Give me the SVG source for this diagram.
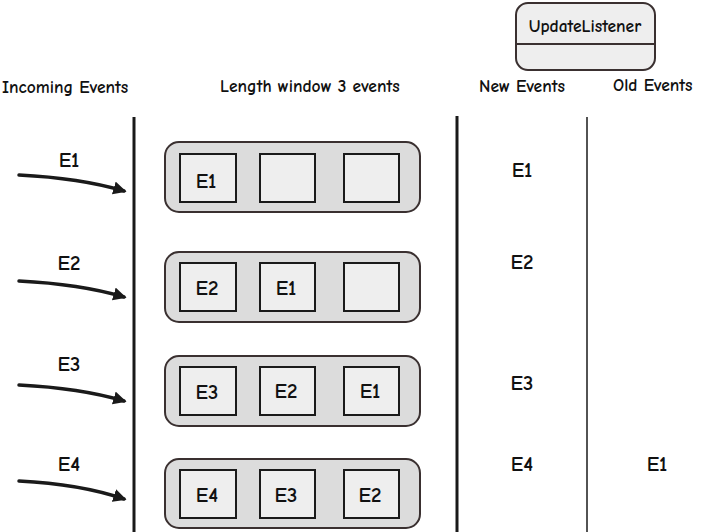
<svg xmlns="http://www.w3.org/2000/svg" width="701" height="532" viewBox="0 0 701 532">
<style>
text{font-family:"Comic Neue","Liberation Sans",sans-serif;fill:#111;font-weight:bold}
.h{font-size:17.5px}
.e{font-size:21px;text-anchor:middle}
.outer{fill:#dcdcdc;stroke:#3a3030;stroke-width:2}
.cell{fill:#eeeeee;stroke:#1a1a1a;stroke-width:2}
.arr{fill:none;stroke:#1a1a1a;stroke-width:3.5;stroke-linecap:round}
</style>
<defs>
<marker id="ah" viewBox="0 0 10 10" refX="8" refY="5" markerWidth="3.8" markerHeight="3.8" orient="auto">
<path d="M0,0 L10,5 L0,10 Z" fill="#1a1a1a"/>
</marker>
</defs>
<rect width="701" height="532" fill="#fff"/>
<g id="listener">
<rect x="516" y="3" width="139" height="67" rx="12" fill="#eeeeee" stroke="#3a3030" stroke-width="2"/>
<line x1="516" y1="44" x2="655" y2="44" stroke="#3a3030" stroke-width="2"/>
<text x="585" y="32" class="h" text-anchor="middle">UpdateListener</text>
</g>
<g id="headers">
<text x="2" y="93" class="h">Incoming Events</text>
<text x="220" y="92" class="h">Length window 3 events</text>
<text x="479" y="92" class="h">New Events</text>
<text x="613" y="91" class="h">Old Events</text>
</g>
<g id="dividers">
<line x1="134" y1="117" x2="134" y2="532" stroke="#1a1a1a" stroke-width="3"/>
<line x1="457" y1="116" x2="457" y2="532" stroke="#1a1a1a" stroke-width="3"/>
<line x1="587" y1="117" x2="587" y2="532" stroke="#1a1a1a" stroke-width="1.5"/>
</g>
<g id="connectors">
<path class="arr" d="M19,175 Q80,178 124,191" marker-end="url(#ah)"/>
<path class="arr" d="M19,281 Q80,284 124,297" marker-end="url(#ah)"/>
<path class="arr" d="M19,385 Q80,388 124,401" marker-end="url(#ah)"/>
<path class="arr" d="M19,481 Q80,484 124,499" marker-end="url(#ah)"/>
</g>
<g id="incoming">
<text x="69" y="167" class="e">E1</text>
<text x="69" y="270" class="e">E2</text>
<text x="69" y="371" class="e">E3</text>
<text x="69" y="471" class="e">E4</text>
</g>
<g id="window1">
<rect class="outer" x="165" y="142" width="255" height="70" rx="14"/>
<rect class="cell" x="180" y="154" width="56" height="48"/>
<rect class="cell" x="260" y="154" width="55" height="48"/>
<rect class="cell" x="344" y="154" width="55" height="48"/>
<text x="206" y="188" class="e">E1</text>
</g>
<g id="window2">
<rect class="outer" x="165" y="252" width="255" height="70" rx="14"/>
<rect class="cell" x="180" y="263" width="56" height="48"/>
<rect class="cell" x="260" y="263" width="55" height="48"/>
<rect class="cell" x="344" y="263" width="55" height="48"/>
<text x="207" y="295" class="e">E2</text>
<text x="286" y="295" class="e">E1</text>
</g>
<g id="window3">
<rect class="outer" x="165" y="356" width="255" height="70" rx="14"/>
<rect class="cell" x="180" y="367" width="56" height="48"/>
<rect class="cell" x="260" y="367" width="55" height="48"/>
<rect class="cell" x="344" y="367" width="55" height="48"/>
<text x="207" y="399" class="e">E3</text>
<text x="286" y="398" class="e">E2</text>
<text x="370" y="398" class="e">E1</text>
</g>
<g id="window4">
<rect class="outer" x="165" y="459" width="255" height="69" rx="14"/>
<rect class="cell" x="180" y="470" width="56" height="48"/>
<rect class="cell" x="260" y="470" width="55" height="48"/>
<rect class="cell" x="344" y="470" width="55" height="48"/>
<text x="207" y="502" class="e">E4</text>
<text x="286" y="502" class="e">E3</text>
<text x="370" y="502" class="e">E2</text>
</g>
<g id="newEvents">
<text x="522" y="177" class="e">E1</text>
<text x="522" y="269" class="e">E2</text>
<text x="522" y="390" class="e">E3</text>
<text x="522" y="471" class="e">E4</text>
</g>
<g id="oldEvents">
<text x="657" y="471" class="e">E1</text>
</g>
</svg>
